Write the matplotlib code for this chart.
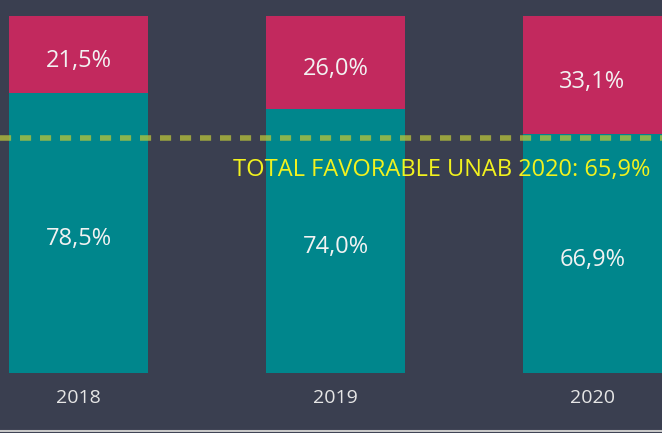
import matplotlib.pyplot as plt
from matplotlib.lines import Line2D

years = ['2018', '2019', '2020']
favorable = [78.5, 74.0, 66.9]
unfavorable = [21.5, 26.0, 33.1]
total_2020 = 65.9
line_label = 'TOTAL FAVORABLE UNAB 2020: 65,9%'

bg = '#3a3f50'
teal = '#00868c'
crimson = '#c2295e'

plt.rcParams['font.family'] = ['Open Sans', 'DejaVu Sans']

fig = plt.figure(figsize=(6.62, 4.33), dpi=100, facecolor=bg)
ax = fig.add_axes([0, 60 / 433, 1, 357 / 433])
ax.set_facecolor(bg)

x = range(len(years))
ax.bar(x, favorable, width=0.54, color=teal)
ax.bar(x, unfavorable, width=0.54, bottom=favorable, color=crimson)

def fmt(v):
    return f'{v:.1f}%'.replace('.', ',')

for i in x:
    ax.text(i, favorable[i] / 2 - 1.8, fmt(favorable[i]), ha='center', va='center',
            color='#f2f2f2', fontsize=17)
    ax.text(i, favorable[i] + unfavorable[i] / 2 - 1.8, fmt(unfavorable[i]), ha='center',
            va='center', color='#f2f2f2', fontsize=17)
    ax.text(i, -7.1, years[i], ha='center', va='center', color='#e6e6e6', fontsize=14)

# dashed reference line for the 2020 total
ax.axhline(total_2020, color='#b8c43a', alpha=0.75, lw=4, ls=(0, (2, 1.6)))
ax.text(0.982, total_2020 - 9, line_label, transform=ax.get_yaxis_transform(),
        ha='right', va='center', color='#f2f21e', fontsize=17)

ax.set_xlim(-78.5 / 257, (662 - 78.5) / 257)
ax.set_ylim(0, 100)
ax.axis('off')

fig.add_artist(Line2D([0, 1], [2 / 433, 2 / 433], color='#c8c8c8', lw=1.5,
                      transform=fig.transFigure))

fig.savefig('out.png', dpi=100, facecolor=bg)
